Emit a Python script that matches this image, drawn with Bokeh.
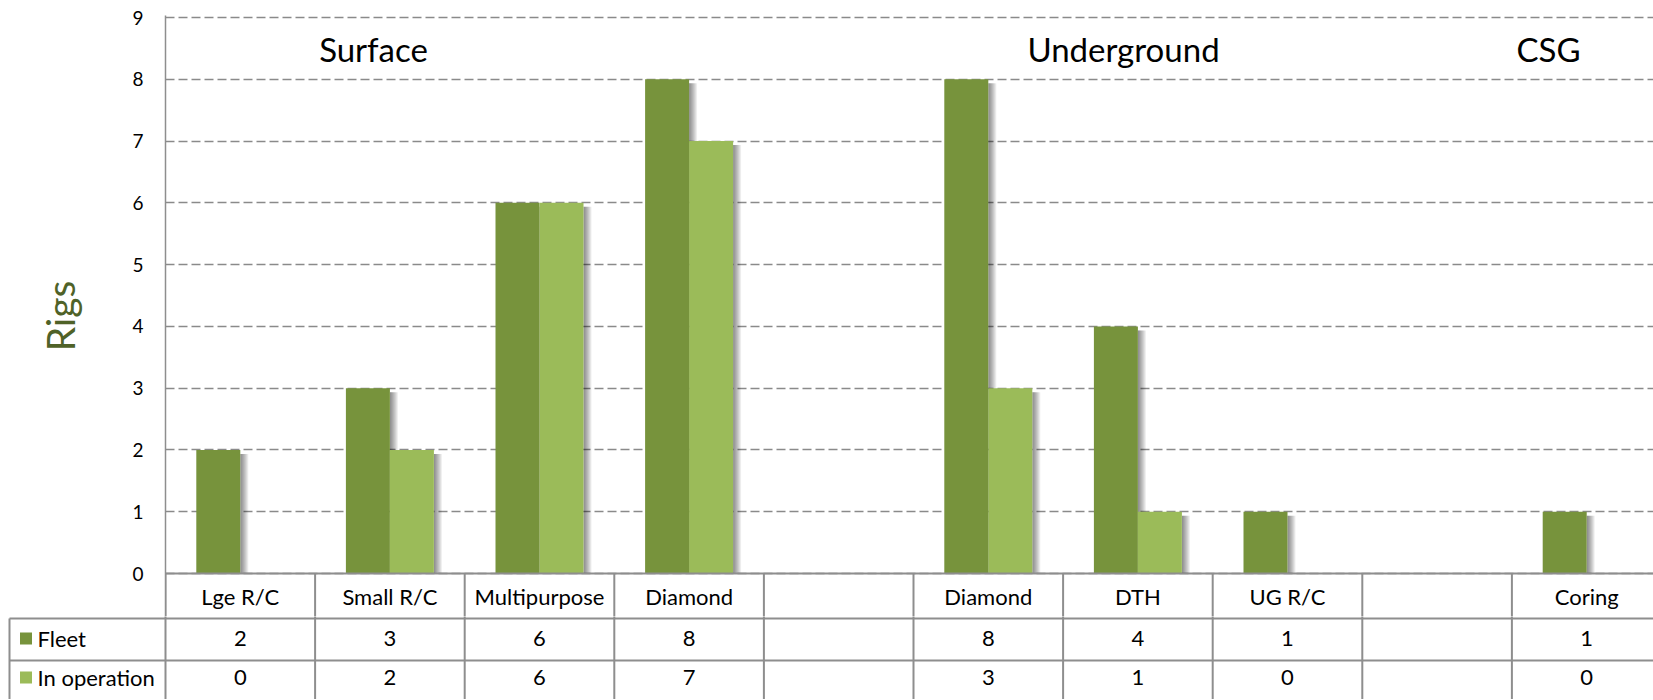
from bokeh.plotting import figure
from bokeh.models import Range1d, FixedTicker
from bokeh.layouts import column
from bokeh.embed import file_html
from bokeh.resources import INLINE
from bokeh.core.properties import value

# ---------------- data ----------------
categories = ["Lge R/C", "Small R/C", "Multipurpose", "Diamond", "",
              "Diamond", "DTH", "UG R/C", "", "Coring"]
fleet = [2, 3, 6, 8, None, 8, 4, 1, None, 1]
in_operation = [0, 2, 6, 7, None, 3, 1, 0, None, 0]
series_names = ["Fleet", "In operation"]
groups = ["Surface", "Underground", "CSG"]
y_ticks = list(range(10))
axis_title = "Rigs"

# ---------------- style / layout ----------------
FLEET_C = "#77933C"
OPER_C = "#9BBB59"
GRID_C = "#8A8A8A"
LINE_C = "#8E8E8E"
TITLE_C = "#4F6228"
FONT = "Lato"

X0 = 165.0          # px of category boundary 0
COLW = 149.6        # px per category
Y0 = 573.0          # px of value 0
UNIT = (573.0 - 17.0) / 9.0   # px per rig
RIGHT = 1653
W = 1653


def px2x(px):
    return (px - X0) / COLW


def py2y(py):
    return (Y0 - py) / UNIT


n = len(categories)
centers = [i + 0.5 for i in range(n)]
BAR_W = 44.0 / COLW

group_x = [px2x(373), px2x(1123), px2x(1548)]
group_y = py2y(48)

# ---------------- chart figure ----------------
pA = figure(width=W, height=616, title=None,
            x_range=Range1d(0, px2x(RIGHT)),
            y_range=Range1d(py2y(616), py2y(15)),
            x_axis_location=None, toolbar_location=None, output_backend="svg",
            min_border_left=165, min_border_right=0, min_border_top=15,
            min_border_bottom=0)
pA.frame_align = False
pA.outline_line_color = None
pA.xgrid.visible = False

ax = pA.yaxis[0]
ax.ticker = FixedTicker(ticks=y_ticks)
ax.major_label_text_font = FONT
ax.major_label_text_font_size = "19px"
ax.major_label_text_color = "#000000"
ax.axis_line_color = LINE_C
ax.axis_line_width = 1.5
ax.major_tick_line_color = None
ax.minor_tick_line_color = None
ax.major_tick_out = 0
ax.major_tick_in = 0
ax.major_label_standoff = 22
ax.axis_label = axis_title
ax.axis_label_text_font = FONT
ax.axis_label_text_font_size = "39px"
ax.axis_label_text_font_style = "normal"
ax.axis_label_text_color = TITLE_C
ax.axis_label_standoff = 46

pA.ygrid.grid_line_color = GRID_C
pA.ygrid.grid_line_dash = "9 4"
pA.ygrid.grid_line_width = 1.5


def draw_series(vals, offset, color):
    xs, tops = [], []
    for c, v in zip(centers, vals):
        if v is not None and v > 0:
            xs.append(c + offset)
            tops.append(v)
    rights = [x + BAR_W / 2 for x in xs]
    # soft shadow on the right side
    for i in range(1, 9):
        pA.quad(left=rights, right=[r + i / COLW for r in rights],
                top=[t - 4.0 / UNIT for t in tops], bottom=[0] * len(tops),
                fill_color="black", fill_alpha=0.065, line_color=None)
    pA.vbar(x=xs, top=tops, bottom=0, width=BAR_W, fill_color=color,
            line_color=None)


draw_series(fleet, -BAR_W / 2, FLEET_C)
draw_series(in_operation, BAR_W / 2, OPER_C)

# table top line and header row
pA.segment(x0=[0], y0=[0], x1=[px2x(RIGHT + 20)], y1=[0],
           line_color=LINE_C, line_width=2)
pA.segment(x0=list(range(n + 1)), y0=[0] * (n + 1), x1=list(range(n + 1)),
           y1=[py2y(630)] * (n + 1), line_color=LINE_C, line_width=2)
pA.text(x=centers, y=[py2y(595.5)] * n, text=categories,
        text_font=value(FONT), text_font_size="22px", text_align="center",
        text_baseline="middle", text_color="#000000")

# group titles
pA.text(x=group_x, y=[group_y] * len(groups), text=groups,
        text_font=value(FONT), text_font_size="33px", text_align="center",
        text_baseline="middle", text_color="#000000")

# ---------------- data table figure ----------------
pB = figure(width=W, height=83, title=None,
            x_range=Range1d(px2x(7), px2x(RIGHT)),
            y_range=Range1d(126, 43),
            x_axis_location=None, y_axis_location=None,
            toolbar_location=None, output_backend="svg",
            min_border_left=7, min_border_right=0, min_border_top=0,
            min_border_bottom=0)
pB.frame_align = False
pB.outline_line_color = None
pB.grid.visible = False

row_lines = [45, 87]
pB.segment(x0=[px2x(9)] * 2, y0=row_lines, x1=[px2x(RIGHT + 20)] * 2,
           y1=row_lines, line_color=LINE_C, line_width=2)
vx = list(range(n + 1)) + [px2x(9)]
pB.segment(x0=vx, y0=[40] * n + [40, 45], x1=vx, y1=[140] * (n + 2),
           line_color=LINE_C, line_width=2)

row_y = [65, 104]
pB.rect(x=[px2x(25.5)] * 2, y=row_y, width=12 / COLW, height=12,
        fill_color=[FLEET_C, OPER_C], line_color=None)
pB.text(x=[px2x(37)] * 2, y=row_y, text=series_names,
        text_font=value(FONT), text_font_size="22px", text_align="left",
        text_baseline="middle", text_color="#000000")

for vals, ry in zip([fleet, in_operation], row_y):
    labels = ["" if v is None else str(v) for v in vals]
    pB.text(x=centers, y=[ry] * n, text=labels,
            text_font=value(FONT), text_font_size="22px", text_align="center",
            text_baseline="middle", text_color="#000000")

layout = column(pA, pB, spacing=0)
open("out.html", "w").write(file_html(layout, INLINE))
